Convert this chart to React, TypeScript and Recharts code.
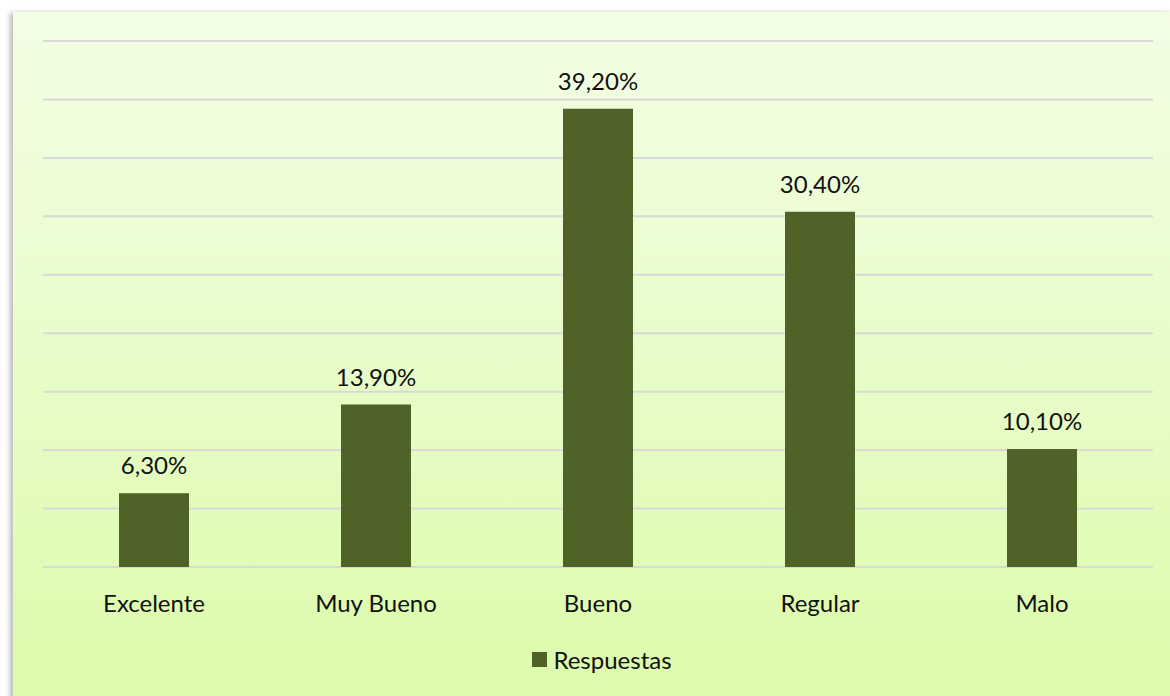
import React from "react";
import { BarChart, Bar, XAxis, YAxis, CartesianGrid, LabelList } from "recharts";

const categories = ["Excelente", "Muy Bueno", "Bueno", "Regular", "Malo"];
const respuestas = [6.3, 13.9, 39.2, 30.4, 10.1];
const yTicks = [0, 5, 10, 15, 20, 25, 30, 35, 40, 45];
const seriesName = "Respuestas";

const data = categories.map((c, i) => ({ name: c, value: respuestas[i] }));

const FONT = "Lato, 'Open Sans', sans-serif";
const BAR = "#4F6228";

const fmt = (v: number) => v.toFixed(2).replace(".", ",") + "%";

const Tick = (props: any) => {
  const { x, payload } = props;
  return (
    <text x={x} y={612} textAnchor="middle" fontFamily={FONT} fontSize={24} fill="#111">
      {payload.value}
    </text>
  );
};

const TopLabel = (props: any) => {
  const { x, y, width, value } = props;
  return (
    <text x={x + width / 2} y={y - 19} textAnchor="middle" fontFamily={FONT} fontSize={24} fill="#111">
      {fmt(value)}
    </text>
  );
};

export default function App() {
  return (
    <div style={{ position: "absolute", left: 0, top: 0, width: 1170, height: 696, background: "#fff", overflow: "hidden" }}>
      <div
        style={{
          position: "absolute",
          left: 13,
          top: 12,
          width: 1160,
          height: 690,
          background: "linear-gradient(to bottom, #F3FEE5 0%, #EAFDCF 40%, #DCFBAB 100%)",
          boxShadow: "-3px 1px 5px rgba(0,0,0,0.28)",
        }}
      />
      <div style={{ position: "absolute", left: 0, top: 0 }}>
        <BarChart width={1170} height={696} data={data} margin={{ top: 41, right: 17, bottom: 99, left: 43 }} barCategoryGap={0}>
          <CartesianGrid vertical={false} stroke="#D9D9D9" strokeWidth={2} />
          <YAxis hide domain={[0, 45]} ticks={yTicks} />
          <XAxis dataKey="name" axisLine={false} tickLine={false} tick={<Tick />} interval={0} height={30} />
          <Bar dataKey="value" name={seriesName} fill={BAR} barSize={70} isAnimationActive={false}>
            <LabelList dataKey="value" content={<TopLabel />} />
          </Bar>
        </BarChart>
      </div>
      <div
        style={{
          position: "absolute",
          top: 644,
          left: 34,
          width: 1136,
          display: "flex",
          justifyContent: "center",
          alignItems: "center",
          fontFamily: FONT,
          fontSize: 24,
          color: "#111",
          height: 30,
        }}
      >
        <span style={{ width: 15, height: 15, background: BAR, display: "inline-block", marginRight: 6 }} />
        <span>{seriesName}</span>
      </div>
    </div>
  );
}
